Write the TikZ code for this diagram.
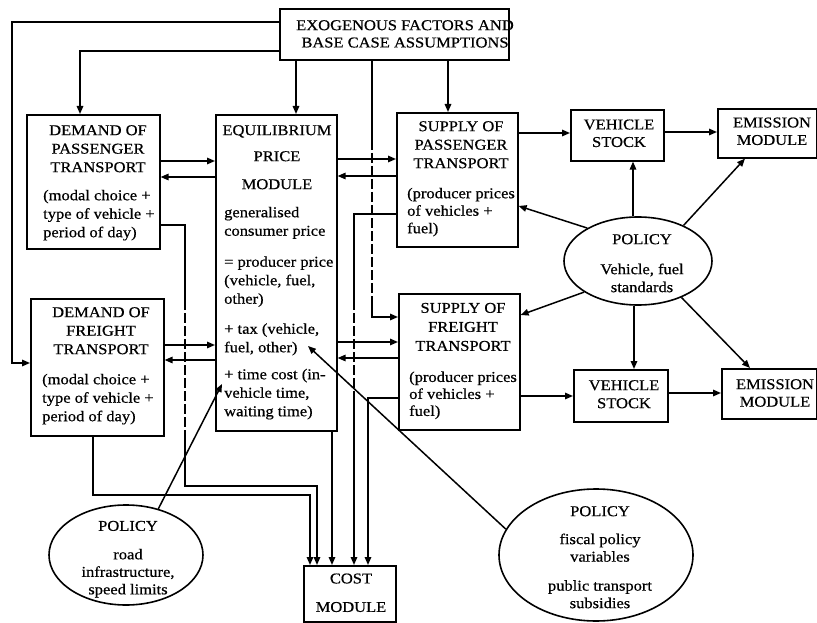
\documentclass[tikz,border=0pt]{standalone}
\usepackage{fontspec}
\setmainfont{Liberation Serif}[FakeStretch=1.1,FakeBold=0.6]
\usetikzlibrary{arrows.meta,shapes.geometric}
\begin{document}
\begin{tikzpicture}[x=1pt,y=-1pt,
  font=\fontsize{15}{18.5}\selectfont,
  box/.style={draw, line width=1.6pt, inner sep=0pt, anchor=north west},
  oval/.style={draw, ellipse, line width=1.6pt, inner sep=0pt},
  head/.style={align=center, inner sep=0pt, anchor=north},
  body/.style={align=left, inner sep=0pt, anchor=north west},
  ln/.style={line width=1.5pt},
  broken/.style={line width=1.5pt, dash pattern=on 10pt off 3pt},
  arr/.style={line width=1.5pt, -{Triangle[length=8pt,width=6.5pt]}}]
\useasboundingbox (0,0) rectangle (817,623);

% boxes
\node[box, minimum width=229, minimum height=51]  (exo) at (279,8) {};
\node[box, minimum width=133, minimum height=134] (dp)  at (26,114) {};
\node[box, minimum width=133, minimum height=137] (df)  at (30,298) {};
\node[box, minimum width=121, minimum height=316] (eq)  at (215,114) {};
\node[box, minimum width=121, minimum height=134] (sp)  at (396,112) {};
\node[box, minimum width=121, minimum height=136] (sf)  at (398,293) {};
\node[box, minimum width=93,  minimum height=51]  (vs1) at (570,109) {};
\node[box, minimum width=99,  minimum height=49]  (em1) at (717,108) {};
\node[box, minimum width=94,  minimum height=52]  (vs2) at (573,369) {};
\node[box, minimum width=95,  minimum height=50]  (em2) at (721,368) {};
\node[box, minimum width=92,  minimum height=56]  (cm)  at (303,565) {};

% policy ellipses
\node[oval, minimum width=148, minimum height=88]  (pr) at (638,261) {};
\node[oval, minimum width=154, minimum height=100] (pl) at (126,555) {};
\node[oval, minimum width=194, minimum height=132] (pf) at (596,555) {};

% texts
\node[head] (exo-t) at (405,20) {EXOGENOUS FACTORS AND\\[-1.2pt]BASE CASE ASSUMPTIONS};
\node[head] (dp-h) at (98,125) {DEMAND OF\\PASSENGER\\TRANSPORT};
\node[body] (dp-b) at (43,189.6) {(modal choice +\\type of vehicle +\\period of day)};
\node[head] (df-h) at (101,307) {DEMAND OF\\FREIGHT\\TRANSPORT};
\node[body] (df-b) at (42,373.6) {(modal choice +\\type of vehicle +\\period of day)};
\node[head] (eq-h) at (277,125) {EQUILIBRIUM\\[7.5pt]PRICE\\[9.5pt]MODULE};
\node[body] (eq-b) at (224,206.6) {generalised\\consumer price\\[12.5pt]= producer price\\(vehicle, fuel,\\other)\\[11.5pt]+ tax (vehicle,\\fuel, other)\\[8.5pt]+ time cost (in-\\vehicle time,\\waiting time)};
\node[head] (sp-h) at (461,121) {SUPPLY OF\\PASSENGER\\TRANSPORT};
\node[body] (sp-b) at (407,187.6) {(producer prices\\[-1pt]of vehicles +\\[-1pt]fuel)};
\node[head] (sf-h) at (463,302.7) {SUPPLY OF\\[0.5pt]FREIGHT\\[0.5pt]TRANSPORT};
\node[body] (sf-b) at (409,371.3) {(producer prices\\[-1.5pt]of vehicles +\\[-1.5pt]fuel)};
\node[head] (vs1-t) at (619,119.3) {VEHICLE\\[-1pt]STOCK};
\node[head] (em1-t) at (772,117.3) {EMISSION\\[-1pt]MODULE};
\node[head] (vs2-t) at (624,380) {VEHICLE\\[-0.5pt]STOCK};
\node[head] (em2-t) at (775,379) {EMISSION\\[-1pt]MODULE};
\node[head] (cm-t) at (351,573.3) {COST\\[10pt]MODULE};
\node[head] (pr-t) at (642,234) {POLICY\\[11.5pt]Vehicle, fuel\\[-0.5pt]standards};
\node[head] (pl-t) at (128,520.7) {POLICY\\[10pt]road\\[-1pt]infrastructure,\\[-1pt]speed limits};
\node[head] (pf-t) at (600,506) {POLICY\\[9.5pt]fiscal policy\\[-1pt]variables\\[10.5pt]public transport\\[-1pt]subsidies};

% exogenous inputs
\draw[arr] (exo.west |- 0,22) -| (12,363) -- (df.west |- 0,363);
\draw[arr] (exo.west |- 0,51) -| (dp.north -| 80,0);
\draw[arr] (exo.south -| 296,0) -- (eq.north -| 296,0);
\draw[ln] (exo.south -| 372,0) -- (372,140);
\draw[broken] (372,140) -- (372,300);
\draw[arr] (372,300) |- (sf.west |- 0,317);
\draw[arr] (exo.south -| 448,0) -- (sp.north -| 448,0);

% flows into the cost module
\draw[ln] (dp.east |- 0,225) -| (185,300);
\draw[broken] (185,300) -- (185,440);
\draw[arr] (185,440) |- (317,486) -- (cm.north -| 317,0);
\draw[arr] (df.south -| 93,0) |- (310,495) -- (cm.north -| 310,0);
\draw[arr] (eq.south -| 332,0) -- (cm.north -| 332,0);
\draw[ln] (sp.west |- 0,214) -| (354,300);
\draw[broken] (354,300) -- (354,400);
\draw[arr] (354,400) -- (cm.north -| 354,0);
\draw[arr] (sf.west |- 0,398) -| (cm.north -| 368,0);

% demand / equilibrium / supply exchanges
\draw[arr] (dp.east |- 0,161) -- (eq.west |- 0,161);
\draw[arr] (eq.west |- 0,177) -- (dp.east |- 0,177);
\draw[arr] (df.east |- 0,345) -- (eq.west |- 0,345);
\draw[arr] (eq.west |- 0,360) -- (df.east |- 0,360);
\draw[arr] (eq.east |- 0,159) -- (sp.west |- 0,159);
\draw[arr] (sp.west |- 0,176) -- (eq.east |- 0,176);
\draw[arr] (eq.east |- 0,342) -- (sf.west |- 0,342);
\draw[arr] (sf.west |- 0,358) -- (eq.east |- 0,358);

% supply -> vehicle stock -> emissions
\draw[arr] (sp.east |- 0,133) -- (vs1.west |- 0,133);
\draw[arr] (vs1.east |- 0,132) -- (em1.west |- 0,132);
\draw[arr] (sf.east |- 0,396) -- (vs2.west |- 0,396);
\draw[arr] (vs2.east |- 0,393) -- (em2.west |- 0,393);

% vehicle and fuel standards
\draw[arr] (pr.north -| 633,0) -- (vs1.south -| 633,0);
\draw[arr] (pr.38) -- (em1.south -| 745,0);
\draw[arr] (pr.147) -- (sp.east |- 0,206);
\draw[arr] (pr.210) -- (sf.east |- 0,315);
\draw[arr] (pr.south -| 634,0) -- (vs2.north -| 634,0);
\draw[arr] (pr.-40) -- (em2.north -| 750,0);

% infrastructure and fiscal policy
\coordinate (tc) at (222,384);
\coordinate (tx) at (308,346);
\draw[arr] (pl.55) -- (tc);
\draw[arr] (pf.164) -- (tx);
\end{tikzpicture}
\end{document}
